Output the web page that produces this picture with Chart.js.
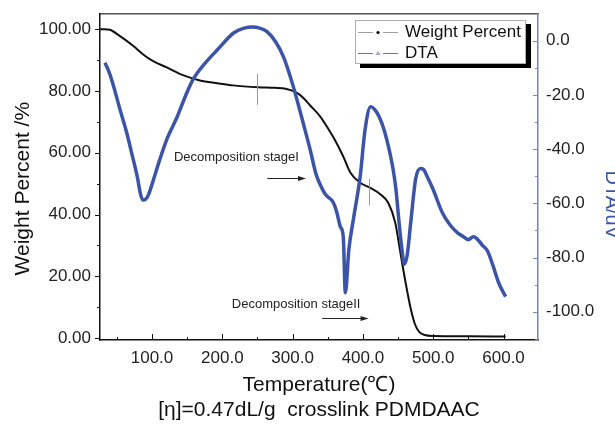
<!DOCTYPE html>
<html>
<head>
<meta charset="utf-8">
<script src="https://cdn.jsdelivr.net/npm/chart.js@4.4.1/dist/chart.umd.min.js"></script>
<style>
  html, body { margin: 0; padding: 0; background: #fff; overflow: hidden; }
  #wrap { width: 630px; height: 425px; }
</style>
</head>
<body>
<div id="wrap"><canvas id="tga"></canvas></div>
<script>
// weight loss curve (temperature in C, weight %)
const weightTemp = [26, 32, 40, 54, 73, 87, 101, 121, 144, 168, 193, 215, 251, 275, 290, 305, 315, 325, 339, 350, 358, 372, 382, 396, 410, 425, 436, 446, 453, 460, 468, 474, 480, 488, 500, 550, 603];
const weightPct = [100, 100, 99.8, 97.8, 94.6, 91.9, 89.7, 87.6, 85.1, 83.4, 82.5, 81.8, 81.2, 81, 80.7, 79.5, 77.8, 75.3, 71.8, 68, 65, 58.8, 53.6, 50.3, 48.7, 46.5, 43.8, 37.3, 28, 18.8, 9.5, 4.5, 2, 1, 0.7, 0.6, 0.5];

// DTA curve (temperature in C, uV)
const dtaTemp = [33, 38, 44, 54, 64, 72, 79, 84, 87, 91, 95, 103, 111, 122, 136, 147, 158, 175, 193, 216, 230, 243, 254, 264, 276, 287, 301, 315, 325, 333, 339, 346, 350, 356, 360, 363, 368, 372, 375, 380, 387, 396, 403, 411, 420, 427, 434, 443, 447, 451, 455, 459, 463, 468, 475, 482, 486, 492, 500, 513, 524, 535, 543, 550, 557, 562, 570, 577, 585, 593, 603];
const dtaVal = [-8.2, -11, -15.6, -25, -34, -42.5, -50.2, -57, -58.8, -58.5, -56.8, -50.5, -43.9, -35.8, -28, -20.8, -14.5, -8.5, -3.4, 2.8, 4.5, 5, 4.5, 3.2, -0.5, -6, -17, -30.4, -40.3, -49, -53, -56.5, -57.6, -59, -61, -63.5, -68.7, -72.3, -93, -77, -65, -50.2, -32.9, -24.4, -26.6, -30.5, -36.6, -47.6, -55, -66, -76, -82.5, -79, -67, -51, -47.2, -47.5, -50.5, -55, -63.5, -68, -71, -72.3, -73.4, -72.3, -73, -75.5, -77.5, -83, -89.3, -94.4];

// annotations (data coordinates on temperature / weight axes)
const markerTemp = [250, 409];
const markerTop = [85.5, 51.5];
const markerBottom = [75.5, 43];
const noteText = ['Decomposition stageI', 'Decomposition stageII'];
const noteTemp = [220, 305];
const noteWeight = [58.4, 11];
const arrowFrom = [264, 342];
const arrowTo = [319, 408];
const arrowWeight = [51.9, 6.5];

const FONT = "'Liberation Sans', Arial, sans-serif";
const BLUE = '#3b54a8';
const AXIS_BLUE = '#7483c4';

function toPoints(xs, ys) {
  return xs.map((x, i) => ({ x: x, y: ys[i] }));
}

// keep the plot box where the axes put it, no extra label padding
function noPad(s) {
  s.paddingTop = 0;
  s.paddingBottom = 0;
  s.paddingLeft = 0;
  s.paddingRight = 0;
}

// short tick marks, major ones longer
const tickMarks = {
  id: 'tickMarks',
  afterDraw(chart) {
    const ctx = chart.ctx;
    const area = chart.chartArea;
    ctx.save();
    ctx.lineWidth = 1;
    const sx = chart.scales.x;
    ctx.strokeStyle = '#111';
    sx.ticks.forEach(t => {
      const px = Math.round(sx.getPixelForValue(t.value)) + 0.5;
      const len = t.value % 100 === 0 ? 6 : 3;
      ctx.beginPath(); ctx.moveTo(px, area.bottom); ctx.lineTo(px, area.bottom - len); ctx.stroke();
    });
    const sy = chart.scales.y;
    sy.ticks.forEach(t => {
      const py = Math.round(sy.getPixelForValue(t.value)) + 0.5;
      const len = t.value % 20 === 0 ? 5 : 3;
      ctx.beginPath(); ctx.moveTo(area.left, py); ctx.lineTo(area.left - len, py); ctx.stroke();
    });
    const sy1 = chart.scales.y1;
    ctx.strokeStyle = AXIS_BLUE;
    sy1.ticks.forEach(t => {
      const py = Math.round(sy1.getPixelForValue(t.value)) + 0.5;
      const len = t.value % 20 === 0 ? 5 : 3;
      ctx.beginPath(); ctx.moveTo(area.right, py); ctx.lineTo(area.right - len, py); ctx.stroke();
    });
    ctx.restore();
  }
};

// stage markers, notes and arrows
const stageNotes = {
  id: 'stageNotes',
  afterDatasetsDraw(chart) {
    const ctx = chart.ctx;
    const sx = chart.scales.x, sy = chart.scales.y;
    ctx.save();
    ctx.strokeStyle = '#999';
    ctx.lineWidth = 1;
    markerTemp.forEach((t, i) => {
      const px = Math.round(sx.getPixelForValue(t)) + 0.5;
      ctx.beginPath();
      ctx.moveTo(px, sy.getPixelForValue(markerTop[i]));
      ctx.lineTo(px, sy.getPixelForValue(markerBottom[i]));
      ctx.stroke();
    });
    ctx.fillStyle = '#222';
    ctx.font = '13px ' + FONT;
    ctx.textAlign = 'center';
    ctx.textBaseline = 'middle';
    noteText.forEach((s, i) => {
      ctx.fillText(s, sx.getPixelForValue(noteTemp[i]), sy.getPixelForValue(noteWeight[i]));
    });
    ctx.strokeStyle = '#222';
    arrowFrom.forEach((t, i) => {
      const x1 = sx.getPixelForValue(t), x2 = sx.getPixelForValue(arrowTo[i]);
      const y = Math.round(sy.getPixelForValue(arrowWeight[i])) + 0.5;
      ctx.beginPath(); ctx.moveTo(x1, y); ctx.lineTo(x2 - 6, y); ctx.stroke();
      ctx.beginPath(); ctx.moveTo(x2, y); ctx.lineTo(x2 - 8, y - 2.5); ctx.lineTo(x2 - 8, y + 2.5); ctx.closePath(); ctx.fill();
    });
    ctx.restore();
  }
};

// framed legend with drop shadow, inside the plot
const boxLegend = {
  id: 'boxLegend',
  afterDraw(chart) {
    const ctx = chart.ctx;
    ctx.save();
    ctx.fillStyle = '#000';
    ctx.fillRect(360, 24, 171, 44);
    ctx.fillStyle = '#fff';
    ctx.fillRect(355, 20, 170, 43);
    ctx.strokeStyle = '#b0b0b0';
    ctx.lineWidth = 1;
    ctx.strokeRect(355.5, 20.5, 170, 43);

    const rows = [chart.data.datasets[1], chart.data.datasets[0]];
    rows.forEach((ds, i) => {
      const y = i === 0 ? 32.5 : 53.5;
      ctx.lineWidth = 1;
      ctx.strokeStyle = i === 0 ? '#a0a0a0' : '#5f72c0';
      ctx.beginPath();
      ctx.moveTo(358, y); ctx.lineTo(373, y);
      ctx.moveTo(383, y); ctx.lineTo(398, y);
      ctx.stroke();
      if (i === 0) {
        ctx.fillStyle = '#000';
        ctx.beginPath(); ctx.arc(378, y, 1.6, 0, Math.PI * 2); ctx.fill();
      } else {
        ctx.fillStyle = '#9aa6d8';
        ctx.beginPath(); ctx.moveTo(378, y - 2.5); ctx.lineTo(380.5, y + 1.5); ctx.lineTo(375.5, y + 1.5); ctx.closePath(); ctx.fill();
      }
      ctx.fillStyle = '#111';
      ctx.font = '17px ' + FONT;
      ctx.textAlign = 'left';
      ctx.textBaseline = 'middle';
      ctx.fillText(ds.label, 405, y);
    });
    ctx.restore();
  }
};

const tickFont = { family: FONT, size: 17 };

new Chart(document.getElementById('tga'), {
  type: 'line',
  data: {
    datasets: [
      {
        label: 'DTA',
        data: toPoints(dtaTemp, dtaVal),
        yAxisID: 'y1',
        borderColor: BLUE,
        borderWidth: 3.5,
        pointRadius: 0,
        fill: false,
        cubicInterpolationMode: 'monotone'
      },
      {
        label: 'Weight Percent',
        data: toPoints(weightTemp, weightPct),
        yAxisID: 'y',
        borderColor: '#111',
        borderWidth: 2,
        pointRadius: 0,
        fill: false,
        cubicInterpolationMode: 'monotone'
      }
    ]
  },
  options: {
    responsive: true,
    maintainAspectRatio: false,
    animation: false,
    layout: { padding: 0 },
    plugins: { legend: { display: false }, tooltip: { enabled: false } },
    scales: {
      x: {
        type: 'linear',
        position: 'bottom',
        min: 26,
        max: 649,
        grid: { display: false, drawTicks: false },
        border: { color: '#111', width: 1.5 },
        ticks: {
          stepSize: 50,
          includeBounds: false,
          autoSkip: false,
          maxRotation: 0,
          padding: 8,
          color: '#222',
          font: tickFont,
          callback: v => (v % 100 === 0 ? v.toFixed(1) : '')
        },
        title: {
          display: true,
          text: ['Temperature(℃)', '[η]=0.47dL/g  crosslink PDMDAAC'],
          color: '#111',
          font: { family: FONT, size: 21, lineHeight: 1.2 },
          padding: { top: 0, bottom: 2 }
        },
        afterFit: s => { s.height = 85; noPad(s); }
      },
      xTop: {
        type: 'linear',
        position: 'top',
        min: 26,
        max: 649,
        grid: { display: false, drawTicks: false },
        border: { color: '#555', width: 1.5 },
        ticks: { display: false },
        afterFit: s => { s.height = 14; noPad(s); }
      },
      y: {
        type: 'linear',
        position: 'left',
        min: -0.6,
        max: 104.9,
        grid: { display: false, drawTicks: false },
        border: { color: '#111', width: 1.5 },
        ticks: {
          stepSize: 10,
          includeBounds: false,
          autoSkip: false,
          padding: 9,
          color: '#222',
          font: tickFont,
          callback: v => (v % 20 === 0 ? v.toFixed(2) : '')
        },
        title: {
          display: true,
          text: 'Weight Percent /%    ',
          color: '#111',
          font: { family: FONT, size: 21, lineHeight: 1.2 },
          padding: { top: 11, bottom: 0 }
        },
        afterFit: s => { s.width = 100; noPad(s); }
      },
      y1: {
        type: 'linear',
        position: 'right',
        min: -110.4,
        max: 9.8,
        grid: { display: false, drawTicks: false },
        border: { color: AXIS_BLUE, width: 1.5 },
        ticks: {
          stepSize: 10,
          includeBounds: false,
          autoSkip: false,
          padding: 8,
          color: '#222',
          font: tickFont,
          callback: v => (Math.abs(v % 20) < 0.001 ? v.toFixed(1) : '')
        },
        title: {
          display: true,
          text: '          DTA/uV',
          color: '#3b54a8',
          font: { family: FONT, size: 20, lineHeight: 1.2 },
          padding: { top: 6, bottom: 0 }
        },
        afterFit: s => { s.width = 92; noPad(s); }
      }
    }
  },
  plugins: [tickMarks, stageNotes, boxLegend]
});
</script>
</body>
</html>
